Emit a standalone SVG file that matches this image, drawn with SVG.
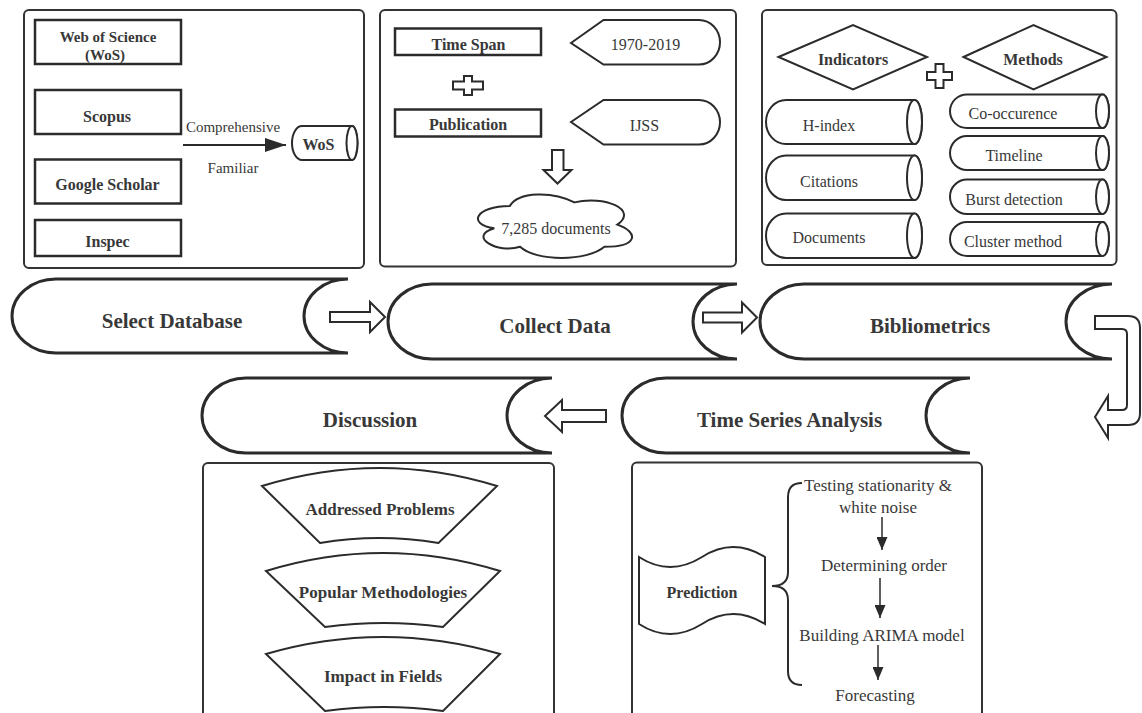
<svg xmlns="http://www.w3.org/2000/svg" width="1142" height="713" viewBox="0 0 1142 713">
  <style>
    .panel { fill: #fff; stroke: #333; stroke-width: 2; }
    .box { fill: #fff; stroke: #2b2b2b; stroke-width: 2.5; }
    .shape { fill: #fff; stroke: #2b2b2b; stroke-width: 2; }
    .band { fill: #fff; stroke: #2b2b2b; stroke-width: 3; }
    .hollow { fill: #fff; stroke: #2b2b2b; stroke-width: 2; stroke-linejoin: miter; }
    .line { fill: none; stroke: #2b2b2b; stroke-width: 2; }
    .thin { fill: none; stroke: #2b2b2b; stroke-width: 1.5; }
    text { fill: #383838; text-anchor: middle; }
    .b { font-weight: bold; }
    .s15 { font-size: 15px; }
    .s16 { font-size: 16px; }
    .s17 { font-size: 17px; }
    .s21 { font-size: 21px; }
  </style>
  <defs>
    <marker id="headBig" markerUnits="userSpaceOnUse" markerWidth="22" markerHeight="14" refX="21" refY="7" orient="auto">
      <path d="M0 0 L21 7 L0 14 Z" fill="#2b2b2b"/>
    </marker>
    <marker id="headSmall" markerUnits="userSpaceOnUse" markerWidth="14" markerHeight="11" refX="13" refY="5.5" orient="auto">
      <path d="M0 0 L13 5.5 L0 11 Z" fill="#2b2b2b"/>
    </marker>
  </defs>

  <rect width="1142" height="713" fill="#fff"/>

  <g font-family="'Liberation Serif', 'Times New Roman', 'DejaVu Serif', serif">

  <!-- Panel: database choice -->
  <g id="panel-database">
    <rect class="panel" x="24" y="10" width="340" height="258" rx="5"/>
    <g id="db-wos-full">
      <rect class="box" x="35" y="20" width="146" height="44"/>
      <text class="b s15" x="108" y="41.5">Web of Science</text>
      <text class="b s15" x="105" y="59.5">(WoS)</text>
    </g>
    <g id="db-scopus">
      <rect class="box" x="35" y="90" width="146" height="44"/>
      <text class="b s16" x="107" y="121.5">Scopus</text>
    </g>
    <g id="db-google">
      <rect class="box" x="35" y="159.5" width="146" height="44"/>
      <text class="b s16" x="107.5" y="190">Google Scholar</text>
    </g>
    <g id="db-inspec">
      <rect class="box" x="35" y="220" width="146" height="36"/>
      <text class="b s16" x="107.5" y="246.5">Inspec</text>
    </g>
    <g id="db-wos">
      <path class="shape" d="M302 126 H352 A5.5 17 0 0 1 352 160 H302 A10 17 0 0 1 302 126 Z"/>
      <ellipse class="shape" cx="352" cy="143" rx="5.5" ry="17"/>
      <text class="b s16" x="318.5" y="150">WoS</text>
    </g>
    <text class="s15" x="233" y="132">Comprehensive</text>
    <text class="s15" x="233" y="173">Familiar</text>
  </g>

  <!-- Panel: data collection -->
  <g id="panel-collect">
    <rect class="panel" x="380" y="10" width="356" height="256.5" rx="5"/>
    <g id="time-span">
      <rect class="box" x="395" y="28.5" width="146" height="26.5"/>
      <text class="b s16" x="468.5" y="50">Time Span</text>
    </g>
    <g id="publication">
      <rect class="box" x="395" y="109.5" width="146" height="27"/>
      <text class="b s16" x="468" y="130">Publication</text>
    </g>
    <path id="plus-collect" class="hollow" d="M464 76 H472 V81.5 H483 V89.5 H472 V95 H464 V89.5 H453 V81.5 H464 Z"/>
    <g id="years">
      <path class="shape" d="M571 43 L603.5 20 H699 A21 22.25 0 0 1 699 64.5 H603.5 Z"/>
      <text class="s16" x="645.5" y="49.5">1970-2019</text>
    </g>
    <g id="journal">
      <path class="shape" d="M571 122 L603.5 100 H699 A21 22.25 0 0 1 699 144.5 H603.5 Z"/>
      <text class="s16" x="644.5" y="130.5">IJSS</text>
    </g>
    <path id="down-arrow" class="hollow" d="M552 150 H563.5 V170 H571.5 L557.5 183.5 L543.5 170 H552 Z"/>
    <g id="documents-cloud">
      <path class="shape" d="M509.8 206.1 C475.4 206.1 466.8 224.6 494.3 228.3 C466.8 236.4 497.8 254.2 520.1 246.8 C535.6 261.6 587.2 261.6 604.4 246.8 C638.8 246.8 638.8 232 617.3 224.6 C638.8 209.8 604.4 195 574.3 202.4 C552.8 191.3 518.4 191.3 509.8 206.1 Z"/>
      <text class="s16" x="556" y="234">7,285 documents</text>
    </g>
  </g>

  <!-- Panel: bibliometric indicators and methods -->
  <g id="panel-biblio">
    <rect class="panel" x="762" y="10" width="354.5" height="255" rx="5"/>
    <g id="indicators">
      <path class="shape" d="M778.5 57 L853 25 L927 57 L853 89.5 Z"/>
      <text class="b s16" x="853" y="65">Indicators</text>
    </g>
    <path id="plus-biblio" class="hollow" d="M935.5 64 H943.5 V72 H952 V80 H943.5 V88 H935.5 V80 H927 V72 H935.5 Z"/>
    <g id="methods">
      <path class="shape" d="M963.5 57 L1033.5 25 L1106.5 57 L1033.5 89.5 Z"/>
      <text class="b s16" x="1033" y="65">Methods</text>
    </g>
    <g id="h-index">
      <path class="shape" d="M786 100 H914.5 A7.5 22 0 0 1 914.5 144 H786 A20 22 0 0 1 786 100 Z"/>
      <ellipse class="shape" cx="914.5" cy="122" rx="7.5" ry="22"/>
      <text class="s16" x="829" y="131">H-index</text>
    </g>
    <g id="citations">
      <path class="shape" d="M786 155.5 H914.5 A7.5 22.25 0 0 1 914.5 200 H786 A20 22.25 0 0 1 786 155.5 Z"/>
      <ellipse class="shape" cx="914.5" cy="177.75" rx="7.5" ry="22.25"/>
      <text class="s16" x="829" y="186.5">Citations</text>
    </g>
    <g id="documents">
      <path class="shape" d="M786 213.5 H914.5 A7.5 22.25 0 0 1 914.5 258 H786 A20 22.25 0 0 1 786 213.5 Z"/>
      <ellipse class="shape" cx="914.5" cy="235.75" rx="7.5" ry="22.25"/>
      <text class="s16" x="829" y="243">Documents</text>
    </g>
    <g id="co-occurrence">
      <path class="shape" d="M967 94.5 H1102.5 A6.5 16.75 0 0 1 1102.5 128 H967 A17 16.75 0 0 1 967 94.5 Z"/>
      <ellipse class="shape" cx="1102.5" cy="111.25" rx="6.5" ry="16.75"/>
      <text class="s16" x="1013" y="119">Co-occurence</text>
    </g>
    <g id="timeline">
      <path class="shape" d="M967 136 H1102.5 A6.5 17 0 0 1 1102.5 170 H967 A17 17 0 0 1 967 136 Z"/>
      <ellipse class="shape" cx="1102.5" cy="153" rx="6.5" ry="17"/>
      <text class="s16" x="1014" y="160.5">Timeline</text>
    </g>
    <g id="burst">
      <path class="shape" d="M967 179.5 H1102.5 A6.5 17.25 0 0 1 1102.5 214 H967 A17 17.25 0 0 1 967 179.5 Z"/>
      <ellipse class="shape" cx="1102.5" cy="196.75" rx="6.5" ry="17.25"/>
      <text class="s16" x="1014" y="205">Burst detection</text>
    </g>
    <g id="cluster">
      <path class="shape" d="M967 222 H1102.5 A6.5 17 0 0 1 1102.5 256 H967 A17 17 0 0 1 967 222 Z"/>
      <ellipse class="shape" cx="1102.5" cy="239" rx="6.5" ry="17"/>
      <text class="s16" x="1013" y="246.5">Cluster method</text>
    </g>
  </g>

  <!-- Process stages -->
  <g id="stage-select">
    <path class="band" d="M56 279 H348 A44 37 0 0 0 348 353 H56 A44 37 0 0 1 56 279 Z"/>
    <text class="b s21" x="172" y="327.5">Select Database</text>
  </g>
  <g id="stage-collect">
    <path class="band" d="M432 284 H737 A44 37.5 0 0 0 737 359 H432 A44 37.5 0 0 1 432 284 Z"/>
    <text class="b s21" x="555" y="332.5">Collect Data</text>
  </g>
  <g id="stage-biblio">
    <path class="band" d="M804 284 H1112 A46 37.5 0 0 0 1112 359 H804 A44 37.5 0 0 1 804 284 Z"/>
    <text class="b s21" x="930" y="332.5">Bibliometrics</text>
  </g>
  <g id="stage-discussion">
    <path class="band" d="M246 378 H552 A45 37.5 0 0 0 552 453 H246 A44 37.5 0 0 1 246 378 Z"/>
    <text class="b s21" x="370" y="427">Discussion</text>
  </g>
  <g id="stage-timeseries">
    <path class="band" d="M666 378 H970 A44 37.5 0 0 0 970 453 H666 A44 37.5 0 0 1 666 378 Z"/>
    <text class="b s21" x="789.5" y="426.5">Time Series Analysis</text>
  </g>

  <!-- Panel: discussion topics -->
  <g id="panel-discussion">
    <rect class="panel" x="203" y="463" width="351" height="270" rx="5"/>
    <g id="problems">
      <path class="shape" d="M262 486 Q380 450 497 486 L438.5 543 Q379 533 320 543 Z"/>
      <text class="b s17" x="380" y="515">Addressed Problems</text>
    </g>
    <g id="methodologies">
      <path class="shape" d="M266 571 Q383 535 500 571 L443 627 Q384 619 325 627 Z"/>
      <text class="b s17" x="383" y="598">Popular Methodologies</text>
    </g>
    <g id="impact">
      <path class="shape" d="M266 654 Q383 620 500 654 L443 711 Q384 703 325 711 Z"/>
      <text class="b s17" x="383" y="682">Impact in Fields</text>
    </g>
  </g>

  <!-- Panel: forecasting steps -->
  <g id="panel-forecast">
    <rect class="panel" x="632" y="462.5" width="350" height="270" rx="5"/>
    <g id="prediction">
      <path class="shape" d="M639 557 Q670 577 702 557 Q733 537 765 557 V624 Q733 604 702 624 Q670 644 639 624 Z"/>
      <text class="b s16" x="702" y="598">Prediction</text>
    </g>
    <path id="brace" class="line" d="M802 483 Q788 483 788 497 V572 Q788 586 772 586 Q788 586 788 600 V671 Q788 685 802 685"/>
    <text class="s17" x="878" y="491">Testing stationarity &amp;</text>
    <text class="s17" x="878" y="513">white noise</text>
    <text class="s17" x="884" y="571">Determining order</text>
    <text class="s17" x="882" y="641">Building ARIMA model</text>
    <text class="s17" x="875" y="701">Forecasting</text>
  </g>

  </g>

  <!-- Connectors -->
  <g id="connectors">
    <line class="line" x1="183" y1="145" x2="286" y2="145" marker-end="url(#headBig)"/>
    <line class="thin" x1="882" y1="517" x2="882" y2="550" marker-end="url(#headSmall)"/>
    <line class="thin" x1="880" y1="578" x2="880" y2="618" marker-end="url(#headSmall)"/>
    <line class="thin" x1="878" y1="645" x2="878" y2="680" marker-end="url(#headSmall)"/>
    <path id="arrow-select-collect" class="hollow" d="M330 312 H370 V302 L385 317 L370 332 V322 H330 Z"/>
    <path id="arrow-collect-biblio" class="hollow" d="M703 312.5 H742 V302.5 L757 317.5 L742 332.5 V322.5 H703 Z"/>
    <path id="arrow-timeseries-discussion" class="hollow" d="M606 410 H562 V400 L545 416 L562 432 V422 H606 Z"/>
    <path id="arrow-biblio-timeseries" class="hollow" d="M1095 316 H1128 Q1140 316 1140 328 V413 Q1140 425 1128 425 H1108 V438 L1095 417 L1108 396 V410 H1122 Q1127 410 1127 405 V334 Q1127 329 1122 329 H1095 Z"/>
  </g>
</svg>
